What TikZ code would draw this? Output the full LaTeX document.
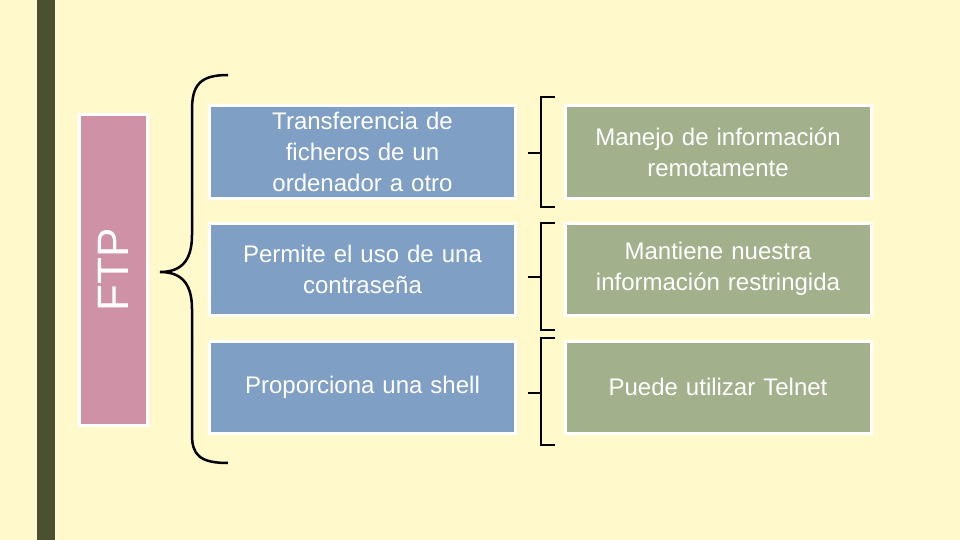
\documentclass[tikz,border=0pt]{standalone}
\usepackage{fontspec}
\setmainfont{Liberation Sans}
\definecolor{bg}{HTML}{FFF9CC}
\definecolor{bar}{HTML}{4A5030}
\definecolor{pinkb}{HTML}{CF91A6}
\definecolor{blueb}{HTML}{7F9FC4}
\definecolor{greenb}{HTML}{A2B18C}
\begin{document}
\begin{tikzpicture}[x=1pt,y=-1pt,
  box/.style={draw=white,line width=3pt,minimum width=306pt,minimum height=92pt,align=center,text width=300pt,font=\fontsize{24}{31}\selectfont,inner sep=0pt},
  lb/.style={box,fill=blueb,text=white},
  gb/.style={box,fill=greenb,text=white},
  br/.style={line width=2.5pt,black}]
\fill[bg] (0,0) rectangle (960,540);
\useasboundingbox (0,0) rectangle (960,540);
\fill[bar] (37,0) rectangle (55,540);
\node[draw=white,line width=3pt,fill=pinkb,minimum width=68pt,minimum height=310pt,inner sep=0pt] (ftp) at (113,270) {};
\node[rotate=90,text=white,font=\fontsize{44}{50}\selectfont] (ftpt) at (ftp.center) {FTP};
\node[lb] (a1) at (362.5,152) {Transferencia de\\ficheros de un\\ordenador a otro};
\node[lb] (a2) at (362.5,269) {Permite el uso de una\\contraseña};
\node[lb] (a3) at (362.5,387) {Proporciona una shell};
\node[gb] (b1) at (718,152) {Manejo de información\\remotamente};
\node[gb] (b2) at (718,269) {Mantiene nuestra\\información restringida};
\node[gb] (b3) at (718,387) {Puede utilizar Telnet};
\coordinate (bt) at (228,75);
\coordinate (bb) at (228,463);
\coordinate (tip) at (160,272);
\draw[br] (bt) .. controls (200,75) and (192,85) .. (192,110) -- (192,235) .. controls (192,262) and (180,272) .. (tip)
  .. controls (180,272) and (192,282) .. (192,309) -- (192,435) .. controls (192,455) and (200,463) .. (bb);
\foreach \t/\b/\m in {97/207/153, 223/330/277, 338/445/393}{
  \draw[br] (555,\t) -- (541,\t) -- (541,\b) -- (555,\b);
  \draw[br] (528,\m) -- (541,\m);
}
\end{tikzpicture}
\end{document}
